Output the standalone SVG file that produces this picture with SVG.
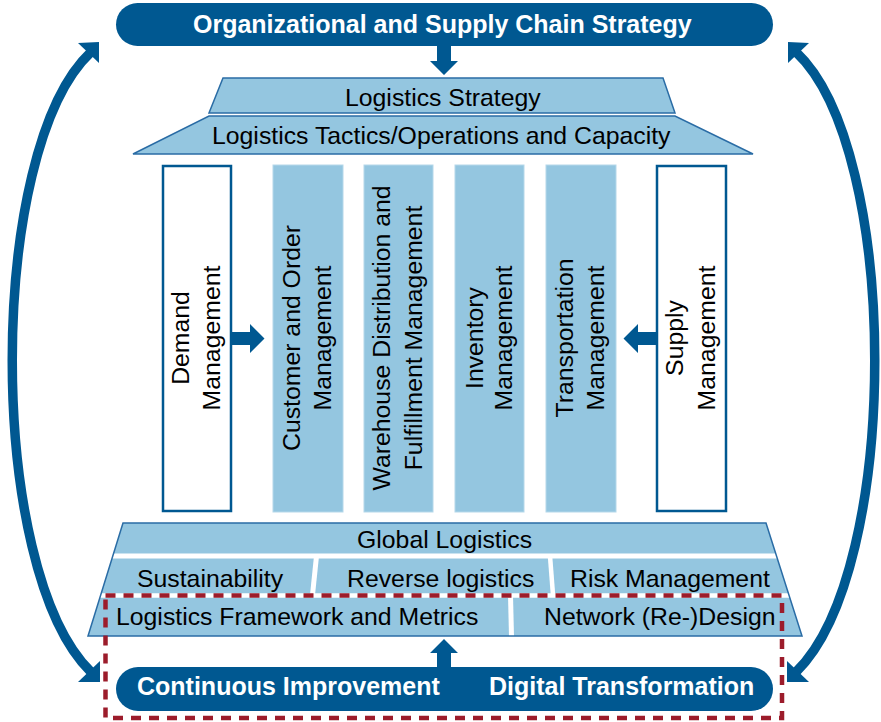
<svg xmlns="http://www.w3.org/2000/svg" width="881" height="722" viewBox="0 0 881 722">
<style>
.dk{fill:#005891}
.lt{fill:#94c6e0}
.edge{fill:none;stroke:#2a6ca5;stroke-width:1.5;stroke-linejoin:miter}
.col{fill:#94c6e0;stroke:#b5d8ea;stroke-width:1}
.box{fill:#ffffff;stroke:#005891;stroke-width:2.5}
.t{font-family:"Liberation Sans",Arial,sans-serif;font-size:24.8px;fill:#000000}
.tb{font-family:"Liberation Sans",Arial,sans-serif;font-size:25px;font-weight:bold;fill:#ffffff}
.arc{fill:none;stroke:#005891;stroke-width:9.5}
.sep{stroke:#ffffff;fill:none}
</style>
<rect width="881" height="722" fill="#ffffff"/>

<g id="org-strategy">
<rect x="116" y="3" width="657" height="43" rx="21.5" class="dk"/>
<text x="193" y="33" class="tb">Organizational and Supply Chain Strategy</text>
</g>

<g id="logistics-strategy">
<polygon points="223,78 663,78 675,113 209,113" class="lt"/>
<polygon points="223,78 663,78 675,113 209,113" class="edge"/>
<text x="345" y="106" class="t">Logistics Strategy</text>
</g>

<g id="logistics-tactics">
<polygon points="209,116 675,116 753,154 133,154" class="lt"/>
<polygon points="209,116 675,116 753,154 133,154" class="edge"/>
<text x="212" y="144" class="t">Logistics Tactics/Operations and Capacity</text>
</g>

<g id="demand-management">
<rect x="163" y="166" width="68" height="345" class="box"/>
<g transform="translate(197,338) rotate(-90)">
<text x="0" y="-8.5" class="t" text-anchor="middle">Demand</text>
<text x="0" y="23" class="t" text-anchor="middle">Management</text>
</g>
</g>

<g id="customer-order-management">
<rect x="273" y="165" width="70" height="347" class="col"/>
<g transform="translate(308,338) rotate(-90)">
<text x="0" y="-8.5" class="t" text-anchor="middle">Customer and Order</text>
<text x="0" y="23" class="t" text-anchor="middle">Management</text>
</g>
</g>

<g id="warehouse-management">
<rect x="364" y="165" width="69" height="347" class="col"/>
<g transform="translate(398.5,338) rotate(-90)">
<text x="0" y="-8.5" class="t" text-anchor="middle">Warehouse Distribution and</text>
<text x="0" y="23" class="t" text-anchor="middle">Fulfillment Management</text>
</g>
</g>

<g id="inventory-management">
<rect x="455" y="165" width="69" height="347" class="col"/>
<g transform="translate(489.5,338) rotate(-90)">
<text x="0" y="-7" class="t" text-anchor="middle">Inventory</text>
<text x="0" y="22.5" class="t" text-anchor="middle">Management</text>
</g>
</g>

<g id="transportation-management">
<rect x="546" y="165" width="70" height="347" class="col"/>
<g transform="translate(581,338) rotate(-90)">
<text x="0" y="-8" class="t" text-anchor="middle">Transportation</text>
<text x="0" y="22.5" class="t" text-anchor="middle">Management</text>
</g>
</g>

<g id="supply-management">
<rect x="657" y="166" width="69" height="345" class="box"/>
<g transform="translate(691.5,338) rotate(-90)">
<text x="0" y="-8.5" class="t" text-anchor="middle">Supply</text>
<text x="0" y="23.5" class="t" text-anchor="middle">Management</text>
</g>
</g>

<g id="base">
<polygon points="123,523 766,523 802,636 88,636" class="lt"/>
<line x1="80" y1="556" x2="810" y2="556" class="sep" stroke-width="5"/>
<line x1="80" y1="595.5" x2="810" y2="595.5" class="sep" stroke-width="4.5"/>
<line x1="316.5" y1="556" x2="312.5" y2="595" class="sep" stroke-width="5"/>
<line x1="550" y1="556" x2="553" y2="595" class="sep" stroke-width="4.5"/>
<line x1="510.5" y1="595" x2="511.5" y2="637" class="sep" stroke-width="5"/>
<polygon points="123,523 766,523 802,636 88,636" class="edge"/>
</g>

<g id="global-logistics">
<text x="357" y="548" class="t">Global Logistics</text>
</g>
<g id="sustainability">
<text x="137" y="587" class="t">Sustainability</text>
</g>
<g id="reverse-logistics">
<text x="347" y="587" class="t">Reverse logistics</text>
</g>
<g id="risk-management">
<text x="570" y="587" class="t">Risk Management</text>
</g>
<g id="framework-metrics">
<text x="116" y="625" class="t">Logistics Framework and Metrics</text>
</g>
<g id="network-design">
<text x="544" y="625" class="t">Network (Re-)Design</text>
</g>

<g id="improvement-banner">
<rect x="116" y="667" width="657" height="44" rx="22" class="dk"/>
<text x="137" y="695" class="tb">Continuous Improvement</text>
<text x="489" y="695" class="tb">Digital Transformation</text>
</g>

<g id="dashed-frame">
<rect x="105.5" y="595.5" width="676.5" height="122.5" fill="none" stroke="#9c1c2b" stroke-width="4.5" stroke-dasharray="10 8"/>
</g>

<g id="connectors">
<polygon points="437,46 451,46 451,61 458,61 444,75 430,61 437,61" class="dk"/>
<polygon points="437,667 451,667 451,653 458,653 444,639 430,653 437,653" class="dk"/>
<polygon points="232,332 250,332 250,324 264.5,338.5 250,353 250,345 232,345" class="dk"/>
<polygon points="656,332 638,332 638,324 623.5,338.5 638,353 638,345 656,345" class="dk"/>
<path d="M 91 52 C -14 150, -14 570, 91 672" class="arc"/>
<polygon points="99,42 78,43 99,63" class="dk"/>
<polygon points="100,682 78,682 100,661" class="dk"/>
<path d="M 796 52 C 901 150, 901 570, 796 672" class="arc"/>
<polygon points="788,42 809,43 788,63" class="dk"/>
<polygon points="787,682 809,682 787,661" class="dk"/>
</g>
</svg>
